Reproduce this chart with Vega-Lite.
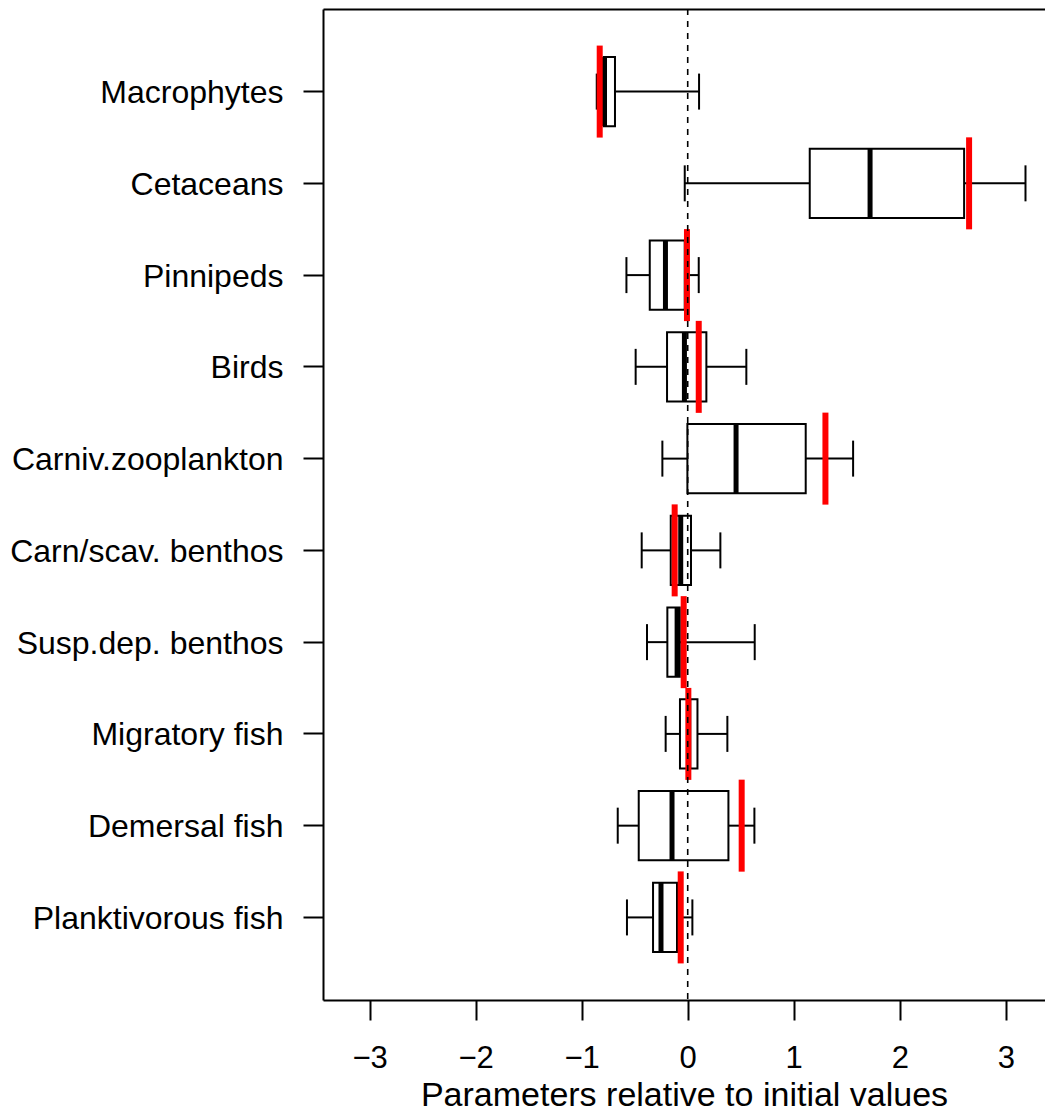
{
  "$schema": "https://vega.github.io/schema/vega-lite/v6.json",
  "width": 722,
  "height": 991,
  "autosize": {"type": "none"},
  "padding": {"left": 323, "top": 9, "right": 0, "bottom": 114},
  "background": "white",
  "config": {
    "view": {"stroke": null},
    "font": "Liberation Sans",
    "axis": {"domainColor": "black", "tickColor": "black", "labelColor": "black", "titleColor": "black", "grid": false, "domainWidth": 2, "tickWidth": 2}
  },
  "datasets": {
    "boxes": [
      {"name": "Macrophytes", "lo": -0.858, "q1": -0.792, "med": -0.785, "q3": -0.686, "hi": 0.107, "red": -0.83},
      {"name": "Cetaceans", "lo": -0.028, "q1": 1.151, "med": 1.72, "q3": 2.607, "hi": 3.186, "red": 2.654},
      {"name": "Pinnipeds", "lo": -0.578, "q1": -0.358, "med": -0.21, "q3": -0.028, "hi": 0.104, "red": -0.007},
      {"name": "Birds", "lo": -0.491, "q1": -0.195, "med": -0.031, "q3": 0.176, "hi": 0.553, "red": 0.104},
      {"name": "Carniv.zooplankton", "lo": -0.239, "q1": -0.003, "med": 0.456, "q3": 1.113, "hi": 1.56, "red": 1.299},
      {"name": "Carn/scav. benthos", "lo": -0.434, "q1": -0.16, "med": -0.066, "q3": 0.031, "hi": 0.308, "red": -0.123},
      {"name": "Susp.dep. benthos", "lo": -0.384, "q1": -0.192, "med": -0.1, "q3": -0.075, "hi": 0.632, "red": -0.038},
      {"name": "Migratory fish", "lo": -0.208, "q1": -0.073, "med": 0.01, "q3": 0.092, "hi": 0.374, "red": 0.006},
      {"name": "Demersal fish", "lo": -0.66, "q1": -0.462, "med": -0.148, "q3": 0.384, "hi": 0.629, "red": 0.509},
      {"name": "Planktivorous fish", "lo": -0.573, "q1": -0.327, "med": -0.252, "q3": -0.101, "hi": 0.044, "red": -0.066}
    ],
    "ref": [{"zero": 0}]
  },
  "layer": [
    {
      "data": {"name": "boxes"},
      "mark": {"type": "bar", "fill": "white", "stroke": "black", "strokeWidth": 2, "height": {"band": 0.756}},
      "encoding": {
        "y": {
          "field": "name", "type": "nominal", "sort": null,
          "scale": {"paddingInner": 0, "paddingOuter": 0.4},
          "axis": {"title": null, "orient": "left", "tickSize": 20, "labelPadding": 20, "labelFontSize": 32, "labelLimit": 0, "labelBaseline": "middle", "labelOffset": 1.5, "domain": true}
        },
        "x": {
          "field": "q1", "type": "quantitative",
          "scale": {"domain": [-3.44, 3.37], "nice": false, "zero": false},
          "axis": {"orient": "bottom", "values": [-3, -2, -1, 0, 1, 2, 3], "tickSize": 20, "labelPadding": 23, "labelFontSize": 31, "title": "Parameters relative to initial values", "titleFontSize": 34, "titleFontWeight": "normal", "titlePadding": 5, "labelFlush": false, "labelOverlap": false}
        },
        "x2": {"field": "q3"}
      }
    },
    {
      "data": {"name": "boxes"},
      "mark": {"type": "rule", "color": "black", "strokeWidth": 2},
      "encoding": {
        "y": {"field": "name", "type": "nominal", "sort": null},
        "x": {"field": "lo", "type": "quantitative", "axis": null},
        "x2": {"field": "q1"}
      }
    },
    {
      "data": {"name": "boxes"},
      "mark": {"type": "rule", "color": "black", "strokeWidth": 2},
      "encoding": {
        "y": {"field": "name", "type": "nominal", "sort": null},
        "x": {"field": "q3", "type": "quantitative", "axis": null},
        "x2": {"field": "hi"}
      }
    },
    {
      "data": {"name": "boxes"},
      "mark": {"type": "tick", "color": "black", "size": 36, "thickness": 2, "opacity": 1},
      "encoding": {
        "y": {"field": "name", "type": "nominal", "sort": null},
        "x": {"field": "lo", "type": "quantitative", "axis": null}
      }
    },
    {
      "data": {"name": "boxes"},
      "mark": {"type": "tick", "color": "black", "size": 36, "thickness": 2, "opacity": 1},
      "encoding": {
        "y": {"field": "name", "type": "nominal", "sort": null},
        "x": {"field": "hi", "type": "quantitative", "axis": null}
      }
    },
    {
      "data": {"name": "boxes"},
      "mark": {"type": "tick", "color": "black", "size": 69, "thickness": 5, "opacity": 1},
      "encoding": {
        "y": {"field": "name", "type": "nominal", "sort": null},
        "x": {"field": "med", "type": "quantitative", "axis": null}
      }
    },
    {
      "data": {"name": "boxes"},
      "mark": {"type": "tick", "color": "#FF0000", "size": 92, "thickness": 6, "opacity": 1},
      "encoding": {
        "y": {"field": "name", "type": "nominal", "sort": null},
        "x": {"field": "red", "type": "quantitative", "axis": null}
      }
    },
    {
      "data": {"name": "ref"},
      "mark": {"type": "rule", "color": "black", "strokeWidth": 1.6, "strokeDash": [6, 6]},
      "encoding": {
        "x": {"field": "zero", "type": "quantitative", "axis": {"orient": "top", "labels": false, "ticks": false, "title": null, "domain": true, "grid": false}}
      }
    }
  ],
  "resolve": {"axis": {"x": "independent"}}
}
